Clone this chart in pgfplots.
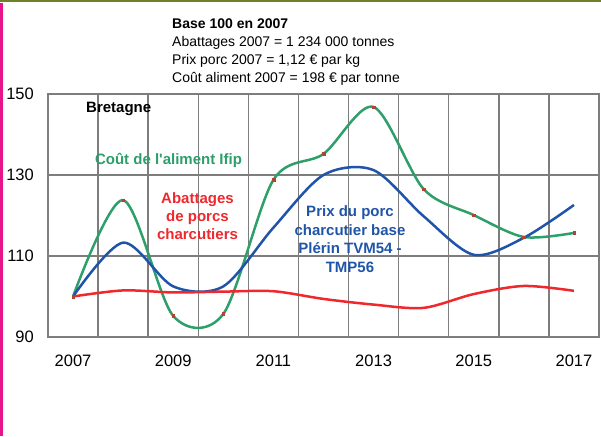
\documentclass[border=0pt]{standalone}
\usepackage{fontspec}
\setmainfont{Liberation Sans}
\usepackage{pgfplots}
\pgfplotsset{compat=1.18}
\definecolor{gridgray}{RGB}{125,125,125}
\definecolor{cgreen}{RGB}{46,158,106}
\definecolor{cblue}{RGB}{32,84,168}
\definecolor{cred}{RGB}{238,40,44}
\definecolor{cmark}{RGB}{170,70,50}
\definecolor{oliveline}{RGB}{110,128,40}
\definecolor{magbar}{RGB}{232,20,140}
\begin{document}
\begin{tikzpicture}[x=1pt,y=1pt]
\useasboundingbox (0,0) rectangle (601,436);
\fill[oliveline] (0,434.3) rectangle (601,436);
\fill[magbar] (0,0) rectangle (2.7,433);
\begin{axis}[
  at={(48pt,99pt)}, anchor=south west, scale only axis,
  width=551pt, height=243pt,
  xmin=2006.5, xmax=2017.5, ymin=90, ymax=150,
  xtick={2007,2009,2011,2013,2015,2017},
  xticklabels={2007,2009,2011,2013,2015,2017},
  minor xtick={2006.5,2007.5,2008.5,2009.5,2010.5,2011.5,2012.5,2013.5,2014.5,2015.5,2016.5,2017.5},
  ytick={90,110,130,150},
  major tick length=0pt, minor tick length=0pt,
  xminorgrids=true, ymajorgrids=true, xmajorgrids=false,
  every major grid/.style={gridgray, line width=1.5pt},
  every minor grid/.style={gridgray, line width=1.5pt},
  axis line style={gridgray, line width=1.5pt},
  tick label style={font=\fontsize{16.5}{18}\selectfont},
  xticklabel style={anchor=north, inner sep=0pt, yshift=-18pt},
  yticklabel style={anchor=east, inner sep=0pt, xshift=-14pt},
  /pgf/number format/assume math mode=true,
  clip=false,
]
\addplot[cgreen, line width=2.5pt, smooth, mark=square*, mark size=1.3pt,
  mark options={solid, fill=cmark, draw=cmark, line width=0.3pt}] coordinates {
  (2007,100) (2008,123.8) (2009,95.2) (2010,95.7) (2011,128.8) (2012,135.2)
  (2013,146.8) (2014,126.5) (2015,120.1) (2016,114.7) (2017,115.7)};
\addplot[cblue, line width=2.5pt, smooth, mark=none] coordinates {
  (2007,100) (2008,113.3) (2009,102.5) (2010,102.5) (2011,117) (2012,130)
  (2013,131.2) (2014,119.8) (2015,110.3) (2016,114.5) (2017,122.6)};
\addplot[cred, line width=2.5pt, smooth, mark=none] coordinates {
  (2007,100) (2008,101.5) (2009,101.0) (2010,101.2) (2011,101.3) (2012,99.4)
  (2013,98.0) (2014,97.2) (2015,100.6) (2016,102.6) (2017,101.4)};
\end{axis}
\begin{scope}[every node/.style={inner sep=0pt}]
\node[anchor=base west, font=\fontsize{14}{17}\selectfont\bfseries] at (172,407) {Base 100 en 2007};
\node[anchor=base west, font=\fontsize{14}{17}\selectfont] at (172,389) {Abattages 2007 = 1 234 000 tonnes};
\node[anchor=base west, font=\fontsize{14}{17}\selectfont] at (172,371) {Prix porc 2007 = 1,12 € par kg};
\node[anchor=base west, font=\fontsize{14}{17}\selectfont] at (172,353) {Coût aliment 2007 = 198 € par tonne};
\node[anchor=base west, font=\fontsize{15}{18}\selectfont\bfseries] at (86,323) {Bretagne};
\node[cgreen, font=\fontsize{15}{18}\selectfont\bfseries] at (168.5,276) {Coût de l\textquotesingle aliment Ifip};
\node[cred, align=center, font=\fontsize{15}{18}\selectfont\bfseries] at (197.5,220) {Abattages\\de porcs\\charcutiers};
\node[cblue, align=center, font=\fontsize{15}{18.5}\selectfont\bfseries] at (350,197) {Prix du porc\\charcutier base\\Plérin TVM54 -\\TMP56};
\end{scope}
\end{tikzpicture}
\end{document}
